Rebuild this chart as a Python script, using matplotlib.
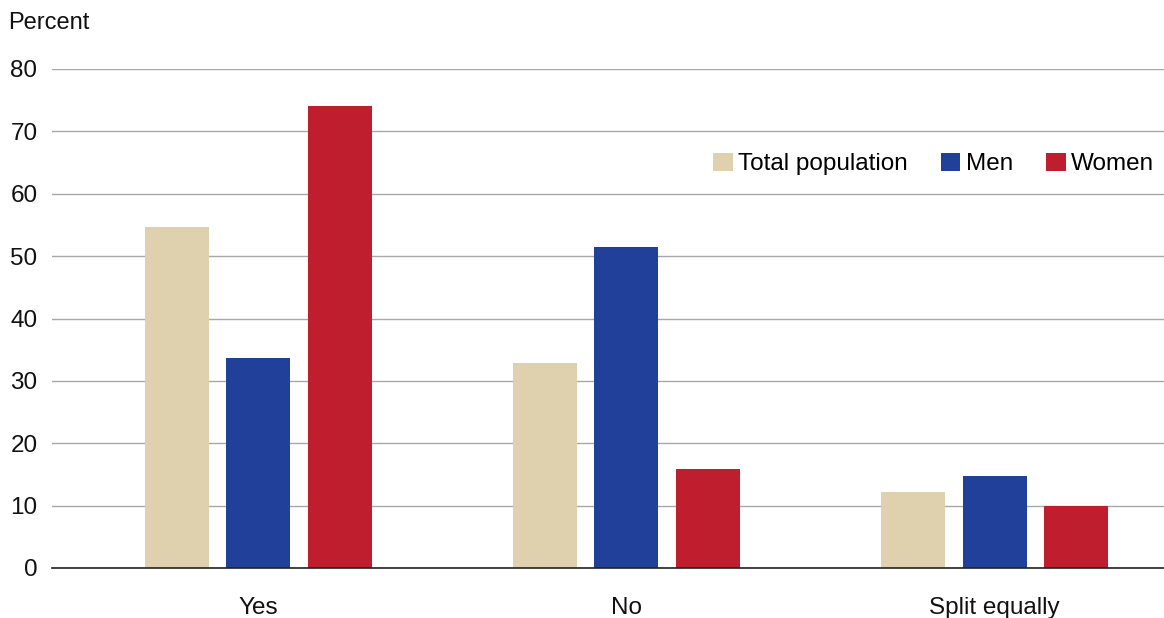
import matplotlib
matplotlib.use("Agg")
import matplotlib.pyplot as plt
import numpy as np

categories = ["Yes", "No", "Split equally"]
series_names = ["Total population", "Men", "Women"]
total_population = [54.6, 32.9, 12.2]
men = [33.6, 51.5, 14.7]
women = [74.0, 15.9, 10.0]
colors = ["#E0D1AE", "#21409A", "#BE1E2D"]
yticks = [0, 10, 20, 30, 40, 50, 60, 70, 80]

plt.rcParams['font.family'] = ['Liberation Sans', 'DejaVu Sans']

fig = plt.figure(figsize=(11.64, 6.18), dpi=100)
ax = fig.add_axes([52/1164, 1-568/618, 1-52/1164, (568-69)/618])

x = np.arange(len(categories))
step = 0.2215
width = 0.174
for i, (vals, name, c) in enumerate(zip([total_population, men, women], series_names, colors)):
    ax.bar(x + (i-1)*step, vals, width, color=c, label=name, zorder=3)

ax.set_xlim(-0.56, 2.46)
ax.set_ylim(0, 80)
ax.set_yticks(yticks)
ax.set_xticks(x)
ax.set_xticklabels(categories)
ax.tick_params(axis='both', length=0, labelsize=17.5, colors='#111111')
ax.tick_params(axis='y', pad=10.5)
ax.tick_params(axis='x', pad=21)
for lab in ax.get_yticklabels():
    lab.set_horizontalalignment('right')
ax.yaxis.grid(True, color='#A8A8A8', linewidth=1.0, zorder=0)
for s in ['top', 'right', 'left']:
    ax.spines[s].set_visible(False)
ax.spines['bottom'].set_color('#222222')
ax.spines['bottom'].set_linewidth(1.2)
ax.spines['bottom'].set_zorder(4)

fig.text(8/1164, 1-23/618, "Percent", fontsize=17, va='center', ha='left', color='#111111')

leg = ax.legend(loc='center right', bbox_to_anchor=(1.0, (568-164)/499), ncol=3,
                frameon=False, fontsize=17.5, handlelength=0.82, handleheight=0.82,
                handletextpad=0.22, columnspacing=1.35, borderaxespad=0.0)

fig.savefig("out.png", dpi=100, facecolor='white')
